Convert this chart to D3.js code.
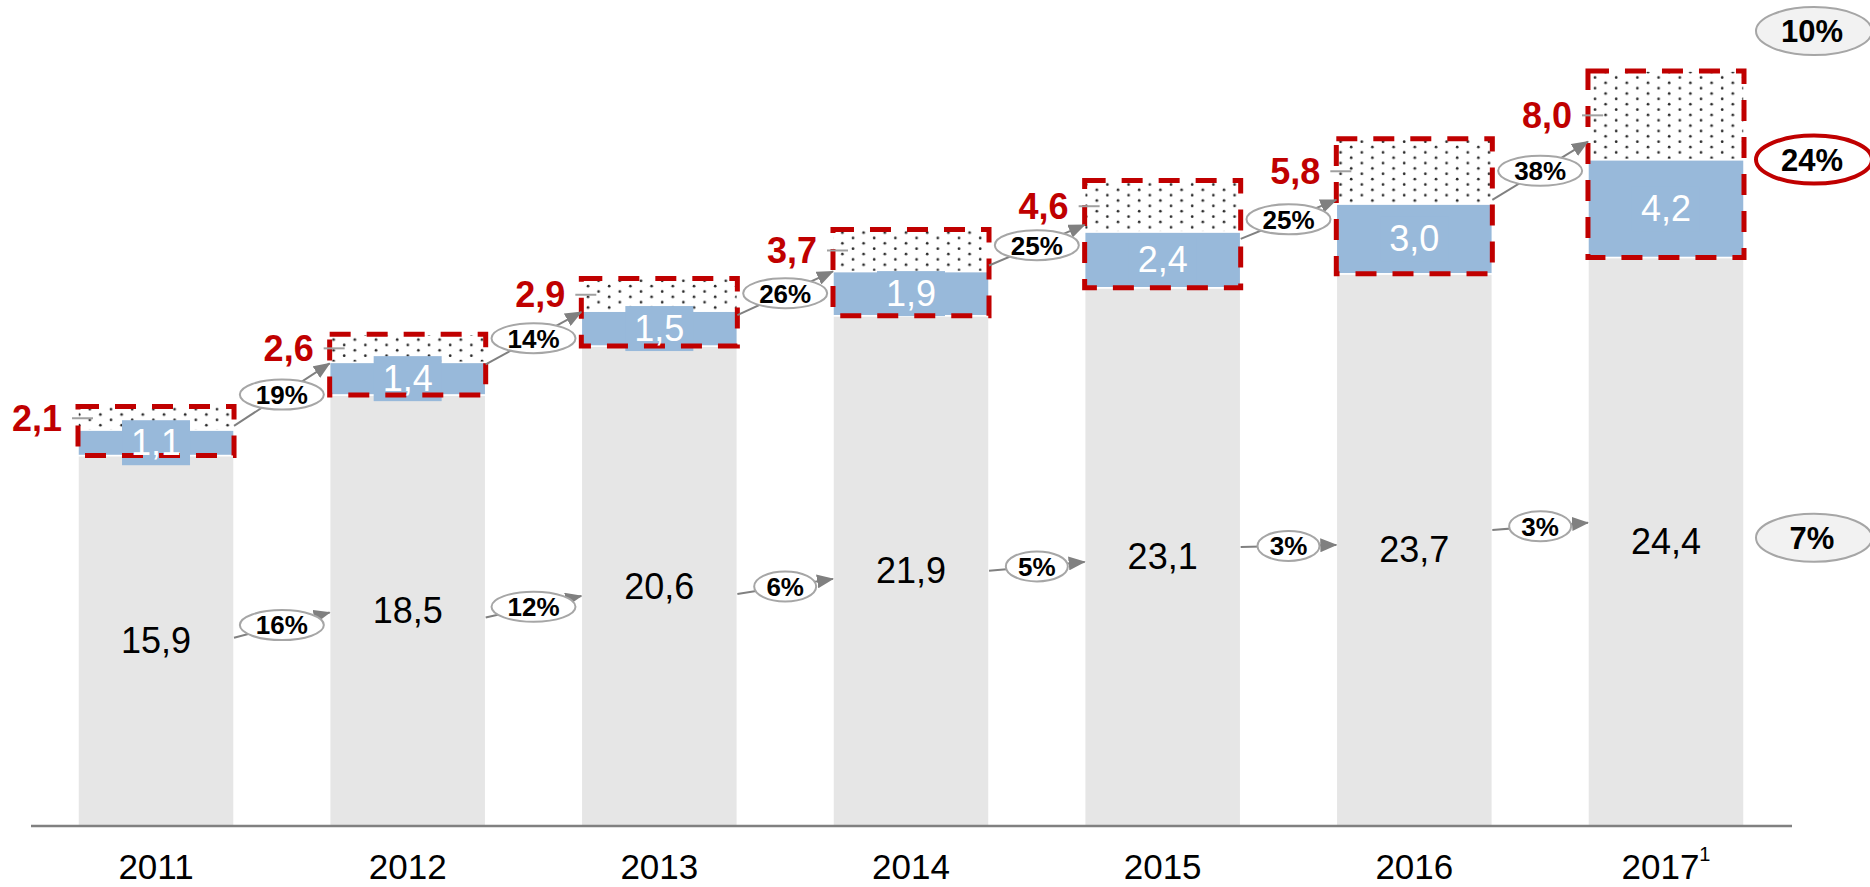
<!DOCTYPE html>
<html>
<head>
<meta charset="utf-8">
<script src="https://cdn.jsdelivr.net/npm/d3@7"></script>
<style>
body{margin:0;background:#fff;}
svg{display:block;font-family:"Liberation Sans",Arial,sans-serif;}
</style>
</head>
<body>
<div class="chart"></div>
<script>
// Data
const years = ['2011','2012','2013','2014','2015','2016','2017'];
const baseValues = [15.9, 18.5, 20.6, 21.9, 23.1, 23.7, 24.4];
const blueValues = [1.1, 1.4, 1.5, 1.9, 2.4, 3.0, 4.2];
const topTotals = [2.1, 2.6, 2.9, 3.7, 4.6, 5.8, 8.0];
const topGrowth = ['19%','14%','26%','25%','25%','38%'];
const baseGrowth = ['16%','12%','6%','5%','3%','3%'];
const cagrTotal = '10%';
const cagrTop = '24%';
const cagrBase = '7%';

// arrows were placed by hand in the original, small px nudges [start, end]
const topNudge = [[-4,1],[2,1],[4,0],[-6,-7],[7,-4],[-4,-18]];
const baseNudge = [[-3,2],[7,10],[8,8],[0,5],[-10,-5],[-20,-19]];

const fmt = d3.formatLocale({decimal:',', thousands:'.', grouping:[3], currency:['','']}).format('.1f');

const svg_width = 1870, svg_height = 887;
const baseline = 826;
const red = '#c00000', grey = '#808080';

const svg = d3.select('.chart').append('svg')
    .attr('width', svg_width).attr('height', svg_height);

const defs = svg.append('defs');
// staggered dot fill
const pat = defs.append('pattern').attr('id','dots')
    .attr('patternUnits','userSpaceOnUse')
    .attr('width', 21.2).attr('height', 10.7);
pat.append('rect').attr('width',21.2).attr('height',10.7).attr('fill','#fff');
pat.append('circle').attr('cx',5).attr('cy',2.6).attr('r',1.35).attr('fill','#2a2a2a');
pat.append('circle').attr('cx',15.6).attr('cy',7.95).attr('r',1.35).attr('fill','#2a2a2a');

defs.append('marker').attr('id','arr')
    .attr('markerUnits','userSpaceOnUse')
    .attr('markerWidth',17).attr('markerHeight',14)
    .attr('refX',16).attr('refY',7).attr('orient','auto')
    .append('path').attr('d','M0,0 L17,7 L0,14 Z').attr('fill',grey);

const x = d3.scaleBand().domain(years).range([78, 1744]).paddingInner(0.38).paddingOuter(0);
const y = d3.scaleLinear().domain([0, 35]).range([baseline, baseline - 35*23.3]);
const bw = x.bandwidth();

const rows = years.map((yr,i) => ({
    year: yr,
    base: baseValues[i],
    blue: blueValues[i],
    dots: +(topTotals[i] - blueValues[i]).toFixed(1)
}));
const series = d3.stack().keys(['base','blue','dots'])(rows);
const fills = {base:'#e6e6e6', blue:'#98b9da', dots:'url(#dots)'};

svg.append('g').selectAll('g').data(series).join('g')
    .attr('fill', d => fills[d.key])
    .selectAll('rect').data(d => d).join('rect')
    .attr('x', d => x(d.data.year))
    .attr('y', d => y(d[1]))
    .attr('width', bw)
    .attr('height', d => y(d[0]) - y(d[1]))
    .attr('stroke','#fff').attr('stroke-width',1.5);

// blue label backgrounds
const boxW = 68, boxH = 45;
svg.append('g').selectAll('rect').data(rows).join('rect')
    .attr('x', d => x(d.year) + bw/2 - boxW/2)
    .attr('y', d => y(d.base + d.blue/2) - boxH/2)
    .attr('width', boxW).attr('height', boxH)
    .attr('fill','#98b9da');

// red dashed boxes
svg.append('g').selectAll('rect').data(rows).join('rect')
    .attr('x', d => x(d.year))
    .attr('y', d => y(d.base + d.blue + d.dots))
    .attr('width', bw)
    .attr('height', d => y(d.base) - y(d.base + d.blue + d.dots))
    .attr('fill','none').attr('stroke',red).attr('stroke-width',5)
    .attr('stroke-dasharray','21,16');

// axis
const xAxis = d3.axisBottom(x).tickSize(0).tickPadding(28);
const xAxisDraw = svg.append('g').attr('transform',`translate(0,${baseline})`).call(xAxis);
xAxisDraw.select('.domain').remove();
xAxisDraw.selectAll('text').attr('font-size',35).attr('font-family','"Liberation Sans",Arial,sans-serif').attr('fill','#000');
xAxisDraw.selectAll('.tick text').filter(d => d === '2017')
    .append('tspan').attr('font-size',20).attr('dy','-0.9em').text('1');
svg.append('line').attr('x1',31).attr('x2',1792).attr('y1',baseline).attr('y2',baseline)
    .attr('stroke',grey).attr('stroke-width',2.5);

// value labels
const labels = svg.append('g').attr('font-size',36);
labels.selectAll('.base-label').data(rows).join('text').attr('class','base-label')
    .attr('x', d => x(d.year) + bw/2).attr('y', d => y(d.base/2))
    .attr('dy','0.35em').attr('text-anchor','middle').attr('fill','#000')
    .text(d => fmt(d.base));
labels.selectAll('.blue-label').data(rows).join('text').attr('class','blue-label')
    .attr('x', d => x(d.year) + bw/2).attr('y', d => y(d.base + d.blue/2))
    .attr('dy','0.35em').attr('text-anchor','middle').attr('fill','#fff')
    .text(d => fmt(d.blue));

// red totals with leader ticks
const midDots = d => y(d.base + d.blue + d.dots/2);
svg.append('g').selectAll('line').data(rows).join('line')
    .attr('x1', d => x(d.year) - 6).attr('x2', d => x(d.year) + 15)
    .attr('y1', midDots).attr('y2', midDots)
    .attr('stroke','#a0a0a0').attr('stroke-width',2);
labels.selectAll('.top-label').data(rows).join('text').attr('class','top-label')
    .attr('x', d => x(d.year) - 16).attr('y', midDots)
    .attr('dy','0.35em').attr('text-anchor','end').attr('fill',red).attr('font-weight','bold')
    .text((d,i) => fmt(topTotals[i]));

// growth arrows with bubbles
function growth(list, yAt, nudge) {
    const arrows = list.map((g,i) => {
        const x1 = x(years[i]) + bw, x2 = x(years[i+1]);
        const y1 = yAt(rows[i]) + nudge[i][0], y2 = yAt(rows[i+1]) + nudge[i][1];
        return {g, x1, x2, y1, y2, cx:(x1+x2)/2, cy:(y1+y2)/2};
    });
    const g = svg.append('g');
    g.selectAll('line').data(arrows).join('line')
        .attr('x1', d => d.x1).attr('y1', d => d.y1)
        .attr('x2', d => d.x2).attr('y2', d => d.y2)
        .attr('stroke',grey).attr('stroke-width',2).attr('marker-end','url(#arr)');
    g.selectAll('ellipse').data(arrows).join('ellipse')
        .attr('cx', d => d.cx).attr('cy', d => d.cy)
        .attr('rx', d => d.g.length > 2 ? 42 : 31).attr('ry',15)
        .attr('fill','#fff').attr('stroke','#a6a6a6').attr('stroke-width',2);
    g.selectAll('text').data(arrows).join('text')
        .attr('x', d => d.cx).attr('y', d => d.cy).attr('dy','0.36em')
        .attr('text-anchor','middle').attr('font-size',26).attr('font-weight','bold')
        .text(d => d.g);
}
growth(topGrowth, d => y(d.base + d.blue), topNudge);
growth(baseGrowth, d => y(d.base/2), baseNudge);

// CAGR bubbles on the right
const last = rows[rows.length - 1];
const cagr = [
    {t:cagrTotal, cy:y(last.base + last.blue + last.dots) - 40, fill:'#f2f2f2', stroke:'#a6a6a6', sw:2},
    {t:cagrTop, cy:y(last.base + last.blue), fill:'#fff', stroke:red, sw:4},
    {t:cagrBase, cy:y(last.base/2) - 4, fill:'#f2f2f2', stroke:'#a6a6a6', sw:2}
];
const cg = svg.append('g');
cg.selectAll('ellipse').data(cagr).join('ellipse')
    .attr('cx',1814).attr('cy', d => d.cy).attr('rx',58).attr('ry',24)
    .attr('fill', d => d.fill).attr('stroke', d => d.stroke).attr('stroke-width', d => d.sw);
cg.selectAll('text').data(cagr).join('text')
    .attr('x',1812).attr('y', d => d.cy).attr('dy','0.36em')
    .attr('text-anchor','middle').attr('font-size',31).attr('font-weight','bold')
    .text(d => d.t);
</script>
</body>
</html>
